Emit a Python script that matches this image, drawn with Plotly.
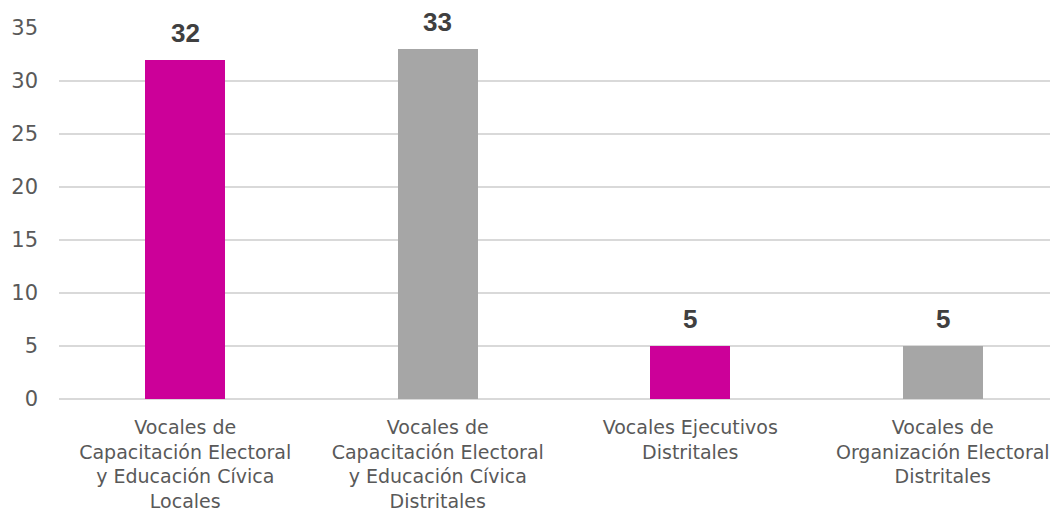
import plotly.graph_objects as go

categories = [
    "Vocales de<br>Capacitación Electoral<br>y Educación Cívica<br>Locales",
    "Vocales de<br>Capacitación Electoral<br>y Educación Cívica<br>Distritales",
    "Vocales Ejecutivos<br>Distritales",
    "Vocales de<br>Organización Electoral<br>Distritales",
]
values = [32, 33, 5, 5]
colors = ["#CC0099", "#A6A6A6", "#CC0099", "#A6A6A6"]
y_ticks = [0, 5, 10, 15, 20, 25, 30, 35]

fig = go.Figure()
fig.add_trace(go.Bar(
    x=categories, y=values, marker_color=colors, width=0.317,
    marker_line_width=0, showlegend=False,
))
for c, v in zip(categories, values):
    fig.add_annotation(
        x=c, y=v, text=f"<b>{v}</b>", showarrow=False, yanchor="bottom",
        yshift=10, font=dict(family="Liberation Sans, Arial", size=26, color="#404040"),
    )

fig.update_layout(
    width=1058, height=514,
    margin=dict(l=51, r=0, t=20, b=123),
    paper_bgcolor="white", plot_bgcolor="white",
    font=dict(family="DejaVu Sans", color="#595959"),
    bargap=0,
)
fig.update_xaxes(
    type="category", range=[-0.5, 3.488], showgrid=False, showline=False,
    ticks="", tickfont=dict(size=19, family="DejaVu Sans", color="#595959"),
    tickangle=0, ticklabelstandoff=15,
)
fig.update_yaxes(
    range=[0, 35], tickvals=y_ticks, showgrid=True, gridcolor="#D9D9D9",
    gridwidth=1.5, zeroline=True, zerolinecolor="#D9D9D9", zerolinewidth=1.5,
    showline=False, ticks="", ticklabelstandoff=20,
    tickfont=dict(size=21, family="DejaVu Sans", color="#595959"),
)

fig.write_html("out.html")
